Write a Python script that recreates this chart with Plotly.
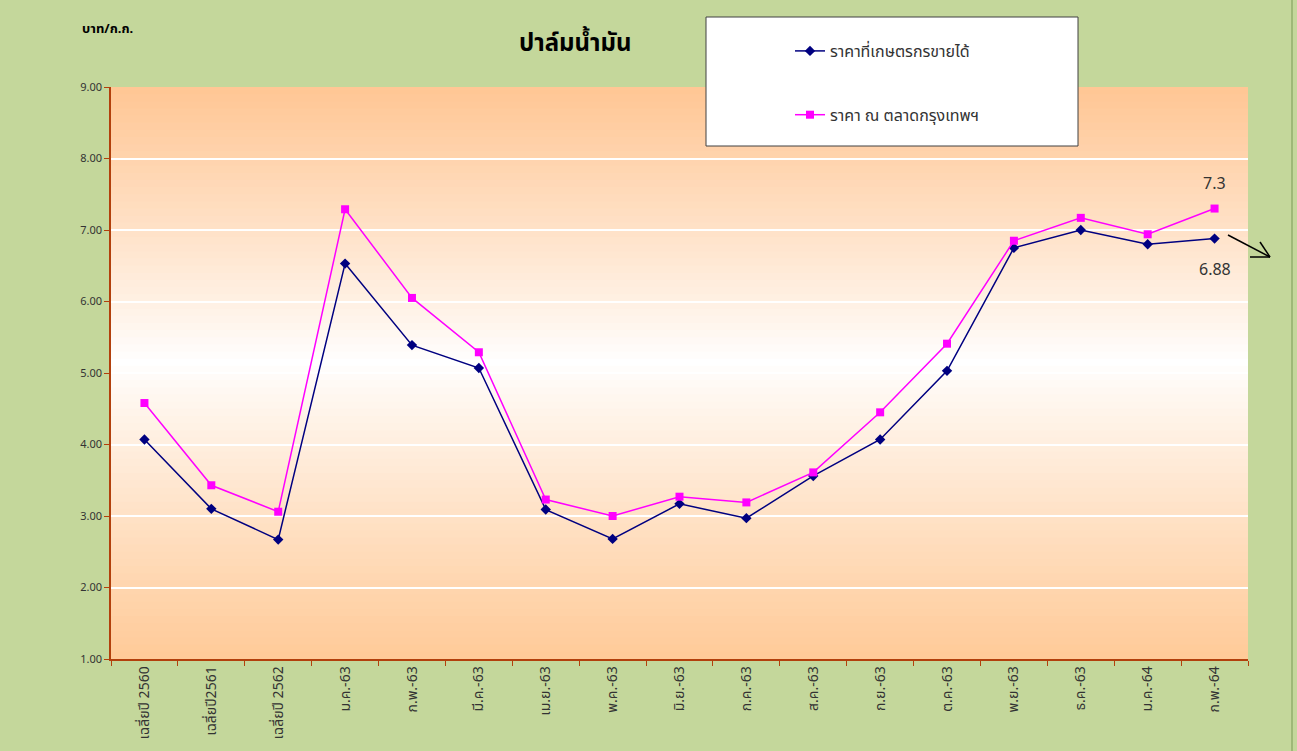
import plotly.graph_objects as go

categories = ["เฉลี่ยปี 2560", "เฉลี่ยปี2561", "เฉลี่ยปี 2562", "ม.ค.-63", "ก.พ.-63", "มี.ค.-63",
              "เม.ย.-63", "พ.ค.-63", "มิ.ย.-63", "ก.ค.-63", "ส.ค.-63", "ก.ย.-63", "ต.ค.-63",
              "พ.ย.-63", "ธ.ค.-63", "ม.ค.-64", "ก.พ.-64"]
farm_price = [4.07, 3.10, 2.67, 6.53, 5.39, 5.07, 3.09, 2.68, 3.17, 2.97, 3.56, 4.07, 5.03,
              6.75, 7.00, 6.80, 6.88]
bkk_price = [4.58, 3.43, 3.06, 7.29, 6.05, 5.29, 3.23, 3.00, 3.27, 3.19, 3.61, 4.45, 5.41,
             6.85, 7.17, 6.94, 7.30]
y_ticks = [1, 2, 3, 4, 5, 6, 7, 8, 9]

FONT = "Tahoma, Noto Sans, Noto Sans Thai, sans-serif"
AXIS_COL = "#B2400C"
L, R, T, B = 111, 1248, 87, 659
PW, PH = R - L, B - T


def px(xp):
    return (xp - L) / PW


def py(yp):
    return (B - yp) / PH


fig = go.Figure()
fig.add_trace(go.Scatter(x=categories, y=farm_price, mode="lines+markers",
                         name="ราคาที่เกษตรกรขายได้", legendgroup="a",
                         line=dict(color="#000080", width=1.5),
                         marker=dict(symbol="diamond", size=8, color="#000080")))
fig.add_trace(go.Scatter(x=categories, y=bkk_price, mode="lines+markers",
                         name="ราคา ณ ตลาดกรุงเทพฯ", legendgroup="b",
                         line=dict(color="#FF00FF", width=1.5),
                         marker=dict(symbol="square", size=8, color="#FF00FF")))

# gradient plot background (orange - white - orange)
shapes = []
N = 80
edge_top = (255, 198, 148)
edge_bot = (255, 202, 152)
mid = 0.52
for i in range(N):
    t0 = i / N
    t1 = min(1.0, (i + 1.6) / N)
    tc = (i + 0.5) / N
    if tc >= mid:
        f = (tc - mid) / (1 - mid)
        edge = edge_top
    else:
        f = (mid - tc) / mid
        edge = edge_bot
    f = f ** 0.9
    col = tuple(round(255 + (e - 255) * f) for e in edge)
    shapes.append(dict(type="rect", xref="x domain", yref="y domain", x0=0, x1=1, y0=t0, y1=t1,
                       fillcolor="rgb(%d,%d,%d)" % col, line=dict(width=0), layer="below"))
# legend box
shapes.append(dict(type="rect", xref="paper", yref="paper",
                   x0=px(706), x1=px(1078), y0=py(146), y1=py(17),
                   fillcolor="white", line=dict(color="#404040", width=1), layer="above"))
# chart right border
shapes.append(dict(type="line", xref="paper", yref="paper", x0=px(1292), x1=px(1292),
                   y0=py(751), y1=py(0), line=dict(color="#9FB878", width=2)))
# arrow near the last point
for (xa, ya, xb, yb) in [(1228, 235, 1270, 257), (1270, 257, 1250, 257), (1270, 257, 1260, 242)]:
    shapes.append(dict(type="line", xref="paper", yref="paper", x0=px(xa), y0=py(ya),
                       x1=px(xb), y1=py(yb), line=dict(color="#000000", width=1.5)))

fig.update_layout(
    width=1297, height=751,
    paper_bgcolor="#C4D79B", plot_bgcolor="#FFFFFF",
    margin=dict(l=L, r=1297 - R, t=T, b=751 - B),
    font=dict(family=FONT, color="#333333"),
    shapes=shapes,
    showlegend=True,
    legend=dict(x=px(790), y=py(34), xanchor="left", yanchor="top",
                bgcolor="rgba(0,0,0,0)", borderwidth=0, tracegroupgap=40,
                font=dict(size=16, color="#333333", family=FONT), itemwidth=30),
    xaxis=dict(showgrid=False, showline=True, linecolor=AXIS_COL, linewidth=1.5,
               ticks="outside", tickson="boundaries", ticklen=5, tickcolor=AXIS_COL,
               tickangle=-90, tickfont=dict(size=14, color="#333333"), range=[-0.5, 16.5]),
    yaxis=dict(range=[1, 9], tickvals=y_ticks, tickformat=".2f", showgrid=True,
               gridcolor="white", gridwidth=1.5, showline=True, linecolor=AXIS_COL,
               linewidth=1.5, ticks="outside", ticklen=5, tickcolor=AXIS_COL,
               tickfont=dict(size=11, color="#333333"), zeroline=False),
    annotations=[
        dict(text="<b>ปาล์มน้ำมัน</b>", xref="paper", yref="paper", x=px(575),
             y=py(42), showarrow=False, font=dict(size=24, color="#000000"),
             xanchor="center", yanchor="middle"),
        dict(text="<b>บาท/ก.ก.</b>", xref="paper", yref="paper", x=px(107),
             y=py(28), showarrow=False, font=dict(size=13, color="#000000"),
             xanchor="center", yanchor="middle"),
        dict(text="7.3", x=categories[-1], y=bkk_price[-1], yshift=26, showarrow=False,
             font=dict(size=16, color="#333333")),
        dict(text="6.88", x=categories[-1], y=farm_price[-1], yshift=-30, showarrow=False,
             font=dict(size=16, color="#333333")),
    ],
)

fig.write_html("out.html", config={"displayModeBar": False},
               post_script="document.body.style.margin='0';")
